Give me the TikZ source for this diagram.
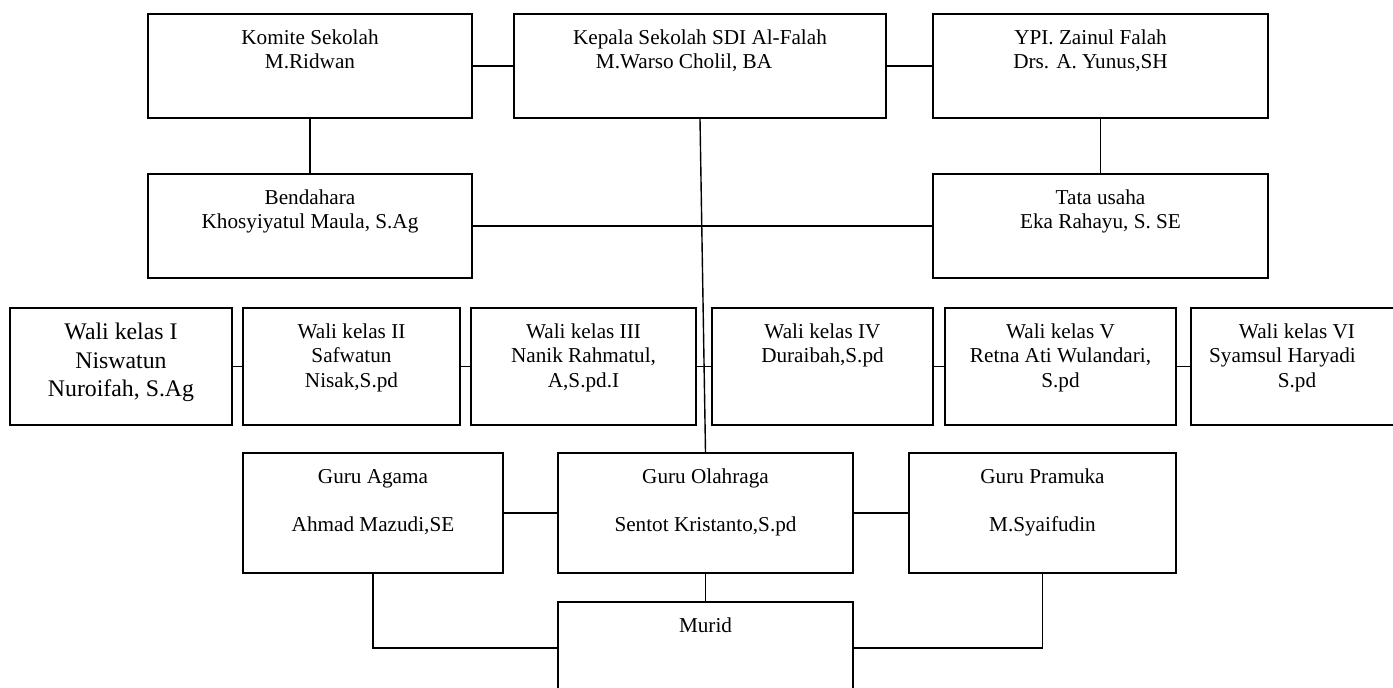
\documentclass[tikz,border=0pt]{standalone}
\usepackage{fontspec}
\setmainfont{Liberation Serif}
\usepackage{tikz}

\newcommand{\boxtext}[1]{\begin{tabular}[t]{@{}c@{}}#1\end{tabular}}

\begin{document}
\begin{tikzpicture}[x=0.5pt,y=0.5pt,
  box/.style 2 args={draw,line width=1pt,anchor=north west,
    minimum width=#1,text height=15.25pt,text depth=#2,
    font=\fontsize{10.6}{12.2}\selectfont},
  link/.style={line width=0.7pt}]
\tikzstyle{every node}+=[inner sep=0pt]
\useasboundingbox (0,0) rectangle (1393,-688);
% top rows
\node[box={162pt}{36.75pt}] (komite) at (147,-13) {\boxtext{Komite Sekolah\\M.Ridwan}};
\node[box={186pt}{36.75pt}] (kepala) at (513,-13) {\boxtext{Kepala Sekolah SDI Al-Falah\\M.Warso Cholil, BA\hspace*{16pt}}};
\node[box={167.5pt}{36.75pt}] (ypi) at (932,-13) {\boxtext{YPI. Zainul Falah\hspace*{10pt}\\Drs. A. Yunus,SH\hspace*{10pt}}};
\node[box={162pt}{36.75pt}] (bendahara) at (147,-173) {\boxtext{Bendahara\\Khosyiyatul Maula, S.Ag}};
\node[box={167.5pt}{36.75pt}] (tatausaha) at (932,-173) {\boxtext{Tata usaha\\Eka Rahayu, S. SE}};
% wali kelas
\node[box={111pt}{42.65pt},text height=15.85pt,font=\fontsize{11.9}{14.2}\selectfont] (wali1) at (9,-307) {\boxtext{Wali kelas I\\Niswatun\\Nuroifah, S.Ag}};
\node[box={108.5pt}{43.25pt}] (wali2) at (242,-307) {\boxtext{Wali kelas II\\Safwatun\\Nisak,S.pd}};
\node[box={112.5pt}{43.25pt}] (wali3) at (470,-307) {\boxtext{Wali kelas III\\Nanik Rahmatul,\\A,S.pd.I}};
\node[box={110.5pt}{43.25pt}] (wali4) at (711,-307) {\boxtext{Wali kelas IV\\Duraibah,S.pd}};
\node[box={115.5pt}{43.25pt}] (wali5) at (944,-307) {\boxtext{Wali kelas V\\Retna Ati Wulandari,\\S.pd}};
\node[box={106pt}{43.25pt}] (wali6) at (1190,-307) {\boxtext{Wali kelas VI\\Syamsul Haryadi\hspace*{14.5pt}\\S.pd}};
% guru
\node[box={130pt}{44.75pt}] (agama) at (242,-452) {\boxtext{Guru Agama\\[12pt]Ahmad Mazudi,SE}};
\node[box={147.5pt}{44.75pt}] (olahraga) at (557,-452) {\boxtext{Guru Olahraga\\[12pt]Sentot Kristanto,S.pd}};
\node[box={133.5pt}{44.75pt}] (pramuka) at (908,-452) {\boxtext{Guru Pramuka\\[12pt]M.Syaifudin}};
\node[box={147.5pt}{30.75pt}] (murid) at (557,-601) {\boxtext{Murid}};
% lines
\draw[link] (komite) -- (kepala);
\draw[link] (kepala) -- (ypi);
\draw[link] (komite) -- (bendahara);
\draw[link] (ypi) -- (tatausaha);
\draw[link] (bendahara) -- (tatausaha);
\draw[link] (kepala.south) -- (olahraga.north);
\draw[link] (wali1) -- (wali2);
\draw[link] (wali2) -- (wali3);
\draw[link] (wali3) -- (wali4);
\draw[link] (wali4) -- (wali5);
\draw[link] (wali5) -- (wali6);
\draw[link] (agama) -- (olahraga);
\draw[link] (olahraga) -- (pramuka);
\draw[link] (olahraga) -- (murid);
\draw[link] (agama.south) |- (murid.west);
\draw[link] (pramuka.south) |- (murid.east);
\end{tikzpicture}
\end{document}
